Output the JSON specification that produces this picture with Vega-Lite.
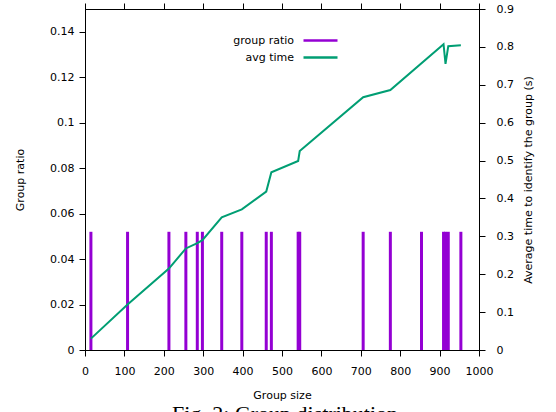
{
  "$schema": "https://vega.github.io/schema/vega-lite/v6.json",
  "width": 394,
  "height": 341,
  "autosize": {"type": "none"},
  "padding": {"left": 85, "top": 9, "right": 77, "bottom": 62},
  "title": {"text": "Fig. 2: Group distribution", "orient": "bottom", "anchor": "middle", "font": "Liberation Serif", "fontSize": 22, "fontWeight": "normal", "color": "black", "offset": 4, "dx": 3},
  "config": {
    "font": "DejaVu Sans",
    "view": {"stroke": "black", "strokeWidth": 1},
    "axis": {"domainColor": "black", "tickColor": "black", "labelColor": "black", "titleColor": "black", "labelFontSize": 11, "titleFontSize": 11, "titleFontWeight": "normal", "grid": false, "tickSize": 6, "labelFont": "DejaVu Sans", "titleFont": "DejaVu Sans", "labelOverlap": false, "labelFlush": false}
  },
  "datasets": {
    "ratio": [
      {"size": 15, "ratio": 0.052}, {"size": 108, "ratio": 0.052}, {"size": 213, "ratio": 0.052},
      {"size": 256, "ratio": 0.052}, {"size": 285, "ratio": 0.052}, {"size": 298, "ratio": 0.052},
      {"size": 347, "ratio": 0.052}, {"size": 398, "ratio": 0.052}, {"size": 460, "ratio": 0.052},
      {"size": 473, "ratio": 0.052}, {"size": 541, "ratio": 0.052}, {"size": 545, "ratio": 0.052},
      {"size": 706, "ratio": 0.052}, {"size": 775, "ratio": 0.052}, {"size": 854, "ratio": 0.052},
      {"size": 910, "ratio": 0.052}, {"size": 915, "ratio": 0.052}, {"size": 922, "ratio": 0.052},
      {"size": 954, "ratio": 0.052}
    ],
    "time": [
      {"size": 15, "time": 0.03}, {"size": 108, "time": 0.12}, {"size": 213, "time": 0.215},
      {"size": 256, "time": 0.268}, {"size": 285, "time": 0.282}, {"size": 298, "time": 0.29},
      {"size": 347, "time": 0.35}, {"size": 398, "time": 0.371}, {"size": 460, "time": 0.418},
      {"size": 473, "time": 0.469}, {"size": 541, "time": 0.499}, {"size": 545, "time": 0.525},
      {"size": 706, "time": 0.667}, {"size": 775, "time": 0.686}, {"size": 910, "time": 0.807},
      {"size": 915, "time": 0.755}, {"size": 922, "time": 0.802}, {"size": 954, "time": 0.804}
    ]
  },
  "layer": [
    {
      "data": {"name": "ratio"},
      "mark": {"type": "rule", "strokeWidth": 3},
      "encoding": {
        "x": {"field": "size", "type": "quantitative", "scale": {"domain": [0, 1000], "nice": false},
              "axis": {"orient": "bottom", "values": [0,100,200,300,400,500,600,700,800,900,1000], "format": "d", "title": "Group size", "labelPadding": 9, "titlePadding": 13}},
        "y": {"field": "ratio", "type": "quantitative", "scale": {"domain": [0, 0.15], "nice": false},
              "axis": {"orient": "left", "values": [0,0.02,0.04,0.06,0.08,0.1,0.12,0.14], "format": "~g", "title": "Group ratio", "labelPadding": 5, "titlePadding": 24}},
        "y2": {"datum": 0},
        "color": {"datum": "group ratio", "type": "nominal",
                  "scale": {"domain": ["group ratio", "avg time"], "range": ["#9400d3", "#009e73"]},
                  "legend": {"orient": "none", "legendX": 224, "legendY": 20, "title": null, "symbolType": "M-1.7,0H1.7", "symbolSize": 400, "symbolStrokeWidth": 2.5, "labelAlign": "right", "labelOffset": -38, "labelFontSize": 11, "labelFont": "DejaVu Sans", "labelColor": "black", "padding": 0, "rowPadding": -1}}
      }
    },
    {
      "data": {"name": "time"},
      "mark": {"type": "line", "strokeWidth": 2},
      "encoding": {
        "x": {"field": "size", "type": "quantitative", "scale": {"domain": [0, 1000], "nice": false},
              "axis": {"orient": "top", "values": [0,100,200,300,400,500,600,700,800,900,1000], "labels": false, "title": null}},
        "y": {"field": "time", "type": "quantitative", "scale": {"domain": [0, 0.9], "nice": false},
              "axis": {"orient": "right", "values": [0,0.1,0.2,0.3,0.4,0.5,0.6,0.7,0.8,0.9], "format": "~g", "title": "Average time to identify the group (s)", "titleAngle": 270, "labelPadding": 11, "titlePadding": 20}},
        "color": {"datum": "avg time", "type": "nominal"}
      }
    }
  ],
  "resolve": {"scale": {"y": "independent"}, "axis": {"x": "independent"}}
}
